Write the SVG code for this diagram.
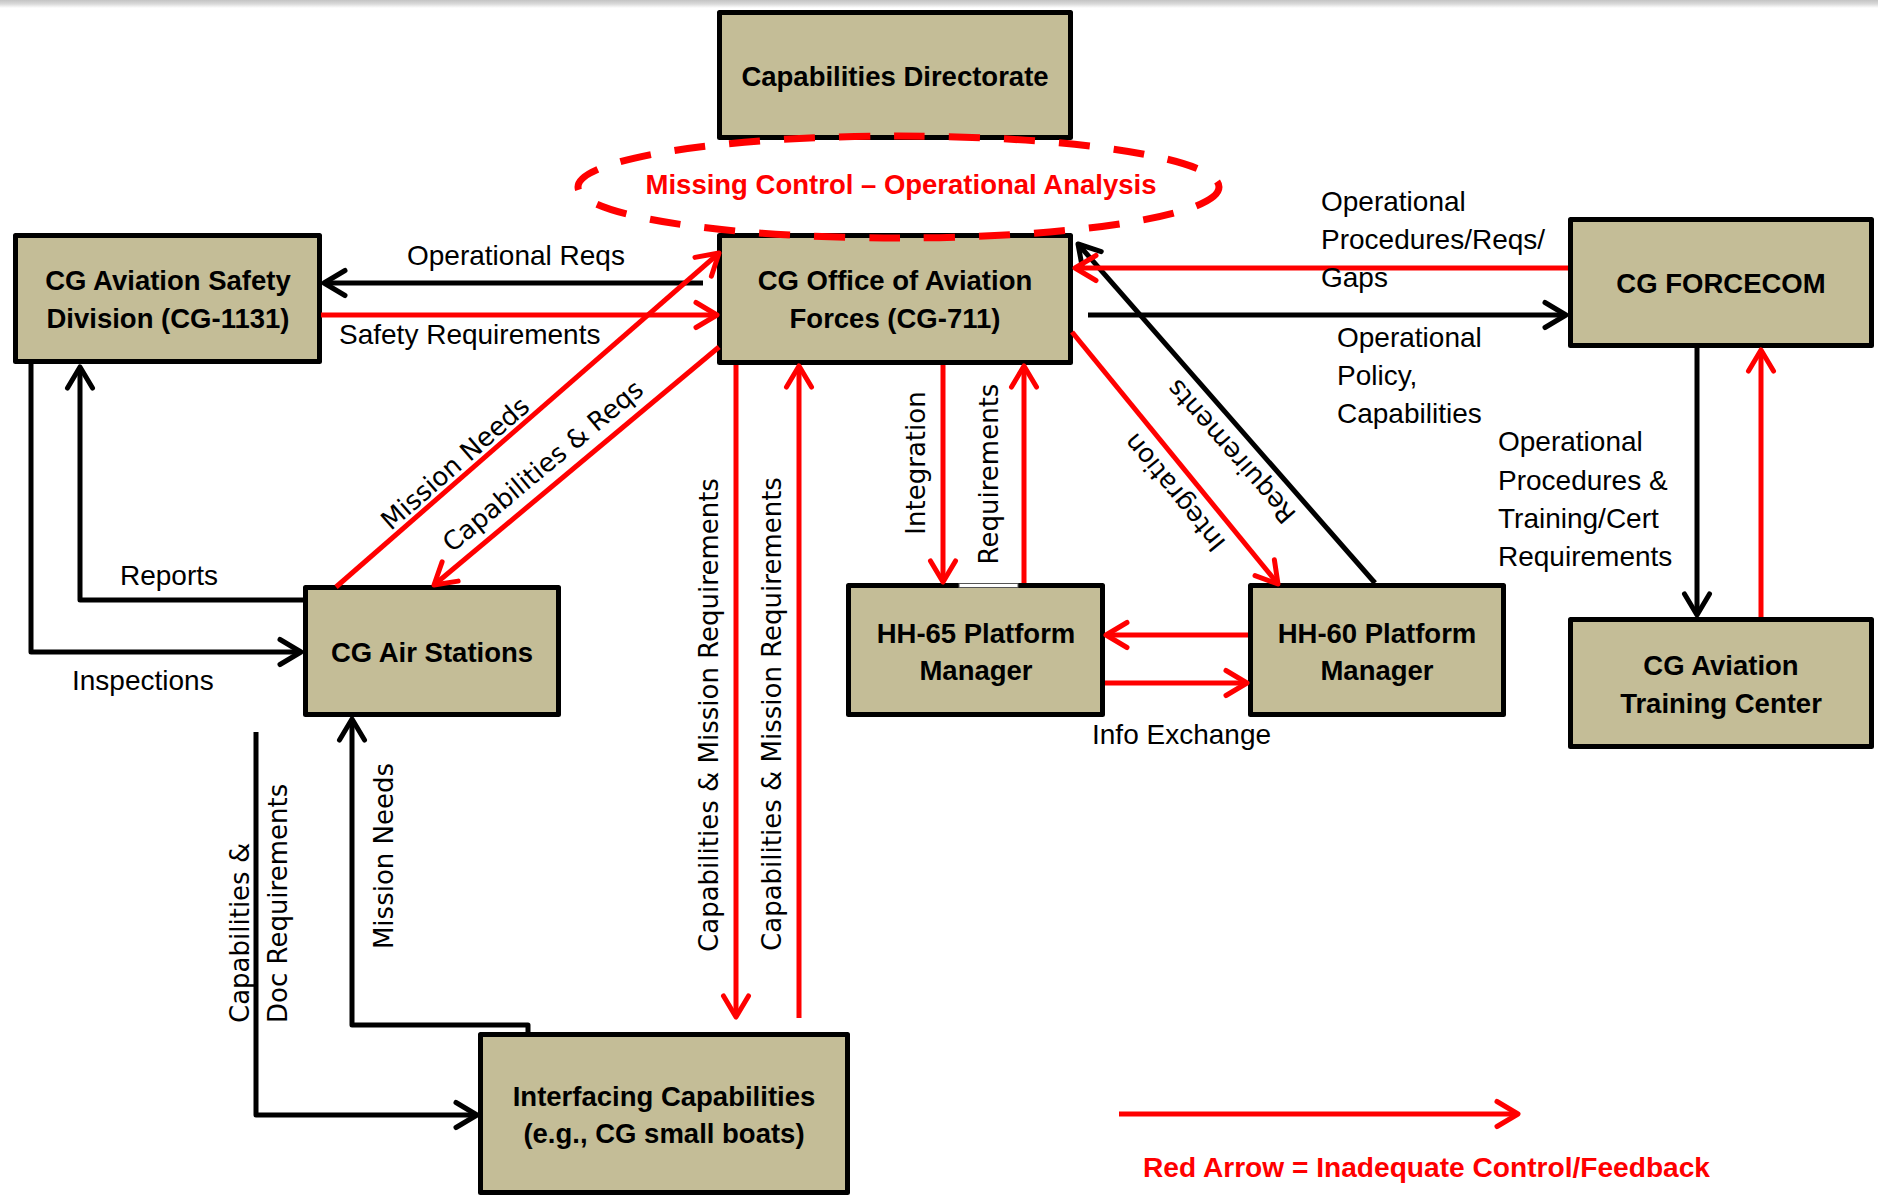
<svg xmlns="http://www.w3.org/2000/svg" width="1878" height="1196" viewBox="0 0 1878 1196">
<defs>
<linearGradient id="topshade" x1="0" y1="0" x2="0" y2="1">
<stop offset="0" stop-color="#c4c4c4"/><stop offset="0.5" stop-color="#dadada"/><stop offset="1" stop-color="#ffffff"/>
</linearGradient>
<marker id="ak" viewBox="-27 -17 32 34" markerWidth="32" markerHeight="34" refX="0" refY="0" orient="auto" markerUnits="userSpaceOnUse">
<path d="M-21,-12.5 L0,0 L-21,12.5" fill="none" stroke="#000" stroke-width="5" stroke-linecap="round" stroke-linejoin="round"/>
</marker>
<marker id="ar" viewBox="-27 -17 32 34" markerWidth="32" markerHeight="34" refX="0" refY="0" orient="auto" markerUnits="userSpaceOnUse">
<path d="M-21,-12.5 L0,0 L-21,12.5" fill="none" stroke="#f00" stroke-width="5" stroke-linecap="round" stroke-linejoin="round"/>
</marker>
</defs>
<style>
.box{fill:#c4bd97;stroke:#000;stroke-width:5;stroke-linejoin:round}
.nt{font-family:"Liberation Sans",Arial,sans-serif;font-weight:bold;font-size:27.5px;fill:#000;text-anchor:middle}
.lb{font-family:"Liberation Sans",Arial,sans-serif;font-size:28px;fill:#000}
.rl{font-family:"DejaVu Sans",Verdana,sans-serif;font-size:26px;fill:#000;text-anchor:middle}
.ck{fill:none;stroke:#000;stroke-width:5;stroke-linejoin:round}
.cr{fill:none;stroke:#f00;stroke-width:5;stroke-linejoin:round}
.ck.a{marker-end:url(#ak)}
.cr.a{marker-end:url(#ar)}
.red{fill:#f00;font-weight:bold;font-family:"Liberation Sans",Arial,sans-serif;font-size:27.5px}
</style>
<rect width="1878" height="1196" fill="#fff"/>
<rect x="0" y="0" width="1878" height="8" fill="url(#topshade)"/>

<g id="capabilities-directorate">
<rect class="box" x="719.5" y="12.5" width="351" height="125"/>
<text class="nt" x="895" y="86">Capabilities Directorate</text>
</g>
<g id="cg-711">
<rect class="box" x="719.5" y="235.5" width="351" height="127"/>
<text class="nt" x="895" y="290">CG Office of Aviation</text>
<text class="nt" x="895" y="328">Forces (CG-711)</text>
</g>
<g id="cg-1131">
<rect class="box" x="15.5" y="235.5" width="304" height="126"/>
<text class="nt" x="168" y="290">CG Aviation Safety</text>
<text class="nt" x="168" y="328">Division (CG-1131)</text>
</g>
<g id="forcecom">
<rect class="box" x="1570.5" y="219.5" width="301" height="126"/>
<text class="nt" x="1721" y="293">CG FORCECOM</text>
</g>
<g id="air-stations">
<rect class="box" x="305.5" y="587.5" width="253" height="127"/>
<text class="nt" x="432" y="662">CG Air Stations</text>
</g>
<g id="hh65">
<rect class="box" x="848.5" y="585.5" width="254" height="129"/>
<text class="nt" x="976" y="643">HH-65 Platform</text>
<text class="nt" x="976" y="680">Manager</text>
</g>
<g id="hh60">
<rect class="box" x="1250.5" y="585.5" width="253" height="129"/>
<text class="nt" x="1377" y="643">HH-60 Platform</text>
<text class="nt" x="1377" y="680">Manager</text>
</g>
<g id="training-center">
<rect class="box" x="1570.5" y="619.5" width="301" height="127"/>
<text class="nt" x="1721" y="675">CG Aviation</text>
<text class="nt" x="1721" y="713">Training Center</text>
</g>
<g id="interfacing">
<rect class="box" x="480.5" y="1034.5" width="367" height="158"/>
<text class="nt" x="664" y="1106">Interfacing Capabilities</text>
<text class="nt" x="664" y="1143">(e.g., CG small boats)</text>
</g>
<rect x="959" y="583.5" width="59" height="4" fill="#fff" stroke="#555" stroke-width="1"/>

<g id="connectors">
<path class="ck a" d="M703,283 H324"/>
<path class="ck a" d="M303,600 H80 V367"/>
<path class="ck a" d="M31,364 V652 H301"/>
<path class="ck a" d="M256,732 V1115 H477"/>
<path class="ck a" d="M528,1032 V1025 H352 V719"/>
<path class="ck a" d="M1088,315 H1566"/>
<path class="ck a" d="M1697,348 V615"/>
<path class="ck a" d="M1375,583 L1078,244"/>
<path class="cr a" d="M321,315 H717"/>
<path class="cr a" d="M336,587 L719,253"/>
<path class="cr a" d="M719,347 L434,585"/>
<path class="cr a" d="M736,365 V1017"/>
<path class="cr a" d="M799,1018 V366"/>
<path class="cr a" d="M943,365 V582"/>
<path class="cr a" d="M1024,583 V366"/>
<path class="cr a" d="M1072,332 L1278,584"/>
<path class="cr a" d="M1568,268 H1075"/>
<path class="cr a" d="M1761,617 V350"/>
<path class="cr a" d="M1248,635 H1106"/>
<path class="cr a" d="M1105,683 H1247"/>
<path class="cr a" d="M1119,1114 H1518"/>
</g>

<g id="labels">
<text class="lb" x="407" y="265">Operational Reqs</text>
<text class="lb" x="339" y="344">Safety Requirements</text>
<text class="lb" x="120" y="585">Reports</text>
<text class="lb" x="72" y="690">Inspections</text>
<text class="lb" x="1321" y="211">Operational<tspan x="1321" y="249">Procedures/Reqs/</tspan><tspan x="1321" y="287">Gaps</tspan></text>
<text class="lb" x="1337" y="347">Operational<tspan x="1337" y="385">Policy,</tspan><tspan x="1337" y="423">Capabilities</tspan></text>
<text class="lb" x="1498" y="451">Operational<tspan x="1498" y="489.5">Procedures &amp;</tspan><tspan x="1498" y="528">Training/Cert</tspan><tspan x="1498" y="566">Requirements</tspan></text>
<text class="lb" x="1092" y="744">Info Exchange</text>
<text class="rl" transform="translate(461,470) rotate(-41.1)">Mission Needs</text>
<text class="rl" transform="translate(548.6,472.8) rotate(-39.8)">Capabilities &amp; Reqs</text>
<text class="rl" transform="translate(1181.4,486.9) rotate(230.7)">Integration</text>
<text class="rl" transform="translate(1237.8,445.8) rotate(228.8)">Requirements</text>
<text class="rl" transform="translate(718,715) rotate(-90)">Capabilities &amp; Mission Requirements</text>
<text class="rl" transform="translate(781,714) rotate(-90)">Capabilities &amp; Mission Requirements</text>
<text class="rl" transform="translate(925,463) rotate(-90)">Integration</text>
<text class="rl" transform="translate(998,474) rotate(-90)">Requirements</text>
<text class="rl" transform="translate(393,856) rotate(-90)">Mission Needs</text>
<text class="rl" style="text-anchor:start" transform="translate(249,1023) rotate(-90)">Capabilities &amp;</text>
<text class="rl" style="text-anchor:start" transform="translate(287,1023) rotate(-90)">Doc Requirements</text>
</g>

<g id="missing-control">
<ellipse cx="898.5" cy="187" rx="320.5" ry="51" fill="none" stroke="#f00" stroke-width="7" stroke-dasharray="31 24"/>
<text class="red" x="901" y="194" text-anchor="middle">Missing Control – Operational Analysis</text>
</g>
<g id="legend">
<text class="red" x="1143" y="1177" textLength="567" lengthAdjust="spacingAndGlyphs">Red Arrow = Inadequate Control/Feedback</text>
</g>
</svg>
